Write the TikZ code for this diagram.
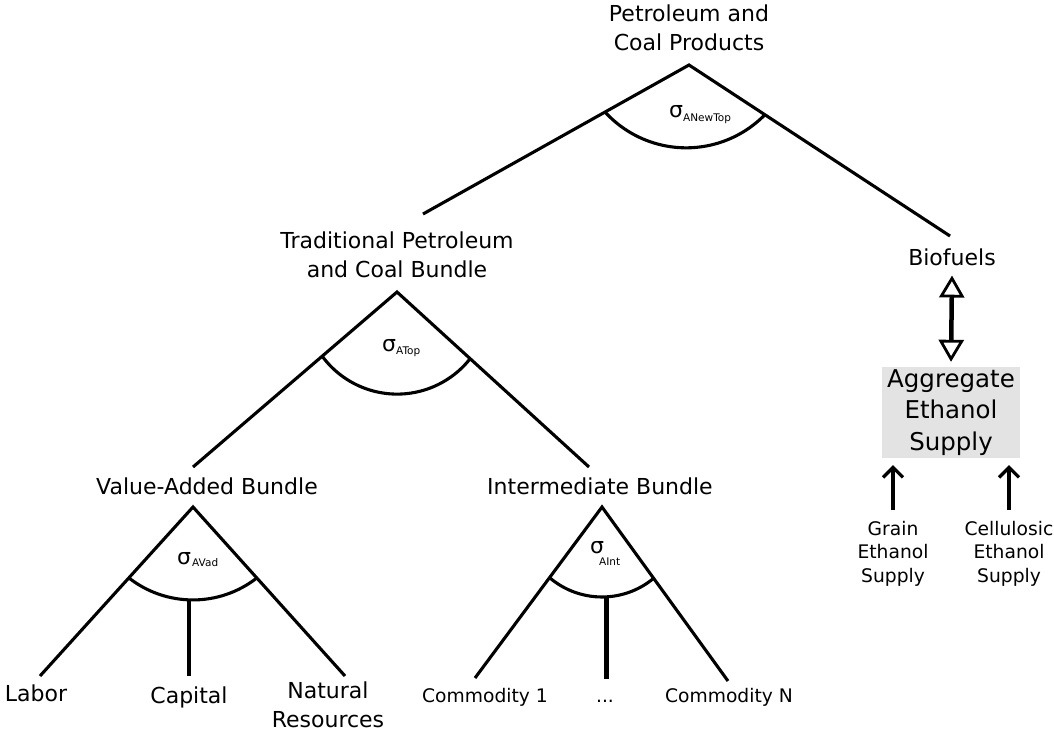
\documentclass[tikz,border=0pt]{standalone}
\usepackage{fontspec}
\setmainfont{DejaVu Sans}
\usetikzlibrary{arrows.meta}
\begin{document}
\begin{tikzpicture}[x=1pt,y=-1pt,
  branch/.style={line width=3.1pt},
  lbl/.style={inner sep=0pt, align=center, font=\fontsize{22}{28.5}\selectfont},
  small/.style={inner sep=0pt, align=center, font=\fontsize{18.7}{23.5}\selectfont},
  sig/.style={inner sep=0pt, anchor=base west, font=\fontsize{22}{22}\selectfont},
  sub/.style={inner sep=0pt, anchor=base west, font=\fontsize{10.5}{10.5}\selectfont},
  aggbox/.style={fill=black!11, inner sep=0pt, minimum width=138pt, minimum height=91pt,
    align=center, font=\fontsize{24.5}{31.5}\selectfont},
  dbl/.style={line width=4.5pt,
    {Triangle[open,length=22pt,width=25pt,line width=2.8pt]}-{Triangle[open,length=22pt,width=25pt,line width=2.8pt]}},
  up/.style={line width=3.2pt, -{Straight Barb[length=10pt,width=20pt,line width=3.2pt]}}
]
\useasboundingbox (0,0) rectangle (1054,740);

% ---- labels ----
\node[lbl, anchor=north] (top) at (689,5) {Petroleum and\\Coal Products};
\node[lbl, anchor=north] (trad) at (397,232) {Traditional Petroleum\\and Coal Bundle};
\node[lbl, anchor=base] (bio) at (952,265) {Biofuels};
\node[lbl, anchor=base] (va) at (207,494) {Value-Added Bundle};
\node[lbl, anchor=base] (inter) at (600,494) {Intermediate Bundle};
\node[lbl, anchor=base] (labor) at (36,701) {Labor};
\node[lbl, anchor=base] (capital) at (189,703) {Capital};
\node[lbl, anchor=north] (natres) at (328,682) {Natural\\Resources};
\node[small, anchor=base] (com1) at (485,702) {Commodity 1};
\node[small, anchor=base] (dots) at (605,702) {...};
\node[small, anchor=base] (comN) at (729,702) {Commodity N};
\node[aggbox] (agg) at (951,412.5) {Aggregate\\Ethanol\\Supply};
\node[small, anchor=north] (grain) at (893,521) {Grain\\Ethanol\\Supply};
\node[small, anchor=north] (cell) at (1009,521) {Cellulosic\\Ethanol\\Supply};

% ---- nesting points ----
\coordinate (topApex) at (689,65);
\coordinate (topL) at (423,214);
\coordinate (topR) at (950,236);
\coordinate (tradApex) at (397,292);
\coordinate (tradL) at (193,467);
\coordinate (tradR) at (589,467);
\coordinate (vaApex) at (193,507);
\coordinate (vaL) at (40,676);
\coordinate (vaM) at (189,599);
\coordinate (vaMb) at (189,676);
\coordinate (vaR) at (345,676);
\coordinate (inApex) at (602,507);
\coordinate (inL) at (475,678);
\coordinate (inM) at (606,597);
\coordinate (inMb) at (606,679);
\coordinate (inR) at (728,681);

% ---- top nest ----
\draw[branch] (topL) -- (topApex) -- (topR);
\draw[branch] (605,112) arc[start angle=137.6, end angle=44.3, radius=110];
\node[sig] (sTop) at (669,117) {σ};
\node[sub] (sTopSub) at (683,121.7) {ANewTop};

% ---- traditional bundle nest ----
\draw[branch] (tradL) -- (tradApex) -- (tradR);
\draw[branch] (321.7,355.5) arc[start angle=144.2, end angle=37.6, radius=93];
\node[sig] (sTrad) at (382,351.7) {σ};
\node[sub] (sTradSub) at (396,354) {ATop};

% ---- value-added nest ----
\draw[branch] (vaL) -- (vaApex) -- (vaR);
\draw[branch] (129,578) arc[start angle=127.9, end angle=52.1, radius=104];
\draw[branch] (vaM) -- (vaMb);
\node[sig] (sVa) at (177,564) {σ};
\node[sub] (sVaSub) at (192,566) {AVad};

% ---- intermediate nest ----
\draw[branch] (inL) -- (inApex) -- (inR);
\draw[branch] (550,578) arc[start angle=130.1, end angle=49.9, radius=80.7];
\draw[line width=5pt] (inM) -- (inMb);
\node[sig] (sIn) at (590,553) {σ};
\node[sub] (sInSub) at (599,565) {AInt};

% ---- ethanol supply ----
\draw[dbl] ([yshift=-10pt]bio.south) -- ([yshift=5pt]agg.north);
\draw[up] ([yshift=11pt]grain.north) -- ([yshift=-7pt]grain.north |- agg.south);
\draw[up] ([yshift=11pt]cell.north) -- ([yshift=-7pt]cell.north |- agg.south);
\end{tikzpicture}
\end{document}
